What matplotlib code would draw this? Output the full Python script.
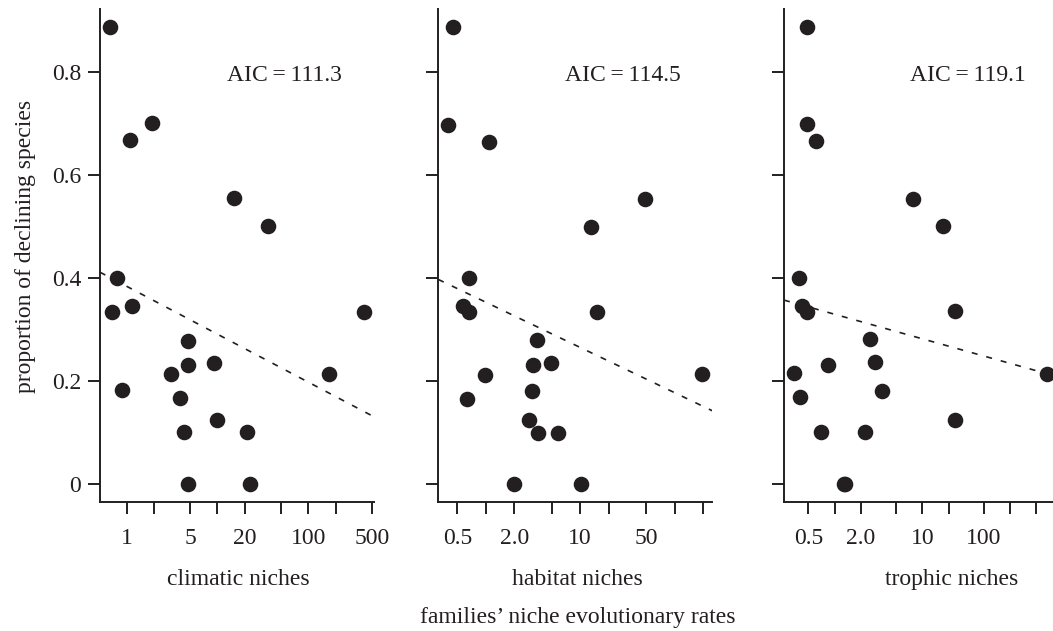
import numpy as np
import matplotlib
matplotlib.use("Agg")
import matplotlib.pyplot as plt

plt.rcParams['font.family'] = ['Liberation Serif', 'DejaVu Serif']

# ---- data ----
clim_x = [0.655, 1.087, 1.88, 15.3, 36.2, 0.776, 0.695, 1.135, 410, 4.70, 4.77, 3.07, 9.22, 169,
          0.895, 3.86, 9.95, 4.31, 21.0, 4.70, 22.8]
clim_y = [0.887, 0.667, 0.700, 0.556, 0.500, 0.400, 0.333, 0.346, 0.333, 0.278, 0.231, 0.214, 0.235, 0.214,
          0.182, 0.167, 0.125, 0.100, 0.100, 0.0, 0.0]

hab_x = [0.454, 0.402, 1.076, 48.5, 12.9, 0.661, 0.580, 0.661, 15.2, 3.46, 3.19, 4.91, 0.98, 193,
         3.07, 0.63, 2.89, 3.60, 5.78, 1.98, 10.2]
hab_y = [0.887, 0.697, 0.664, 0.554, 0.499, 0.399, 0.346, 0.333, 0.333, 0.279, 0.231, 0.234, 0.212, 0.214,
         0.181, 0.165, 0.124, 0.098, 0.098, 0.0, 0.0]

tro_x = [0.479, 0.479, 0.607, 7.77, 17.4, 0.388, 0.420, 0.479, 23.6, 2.53, 2.89, 0.832, 0.346, 267,
         3.49, 0.402, 23.6, 0.698, 2.24, 1.27, 1.31]
tro_y = [0.887, 0.699, 0.666, 0.553, 0.500, 0.399, 0.346, 0.333, 0.335, 0.281, 0.236, 0.230, 0.216, 0.214,
         0.181, 0.168, 0.124, 0.100, 0.100, 0.0, 0.0]

# fitted trend: y = intercept + slope * log10(x)
trend_intercept = [0.3837, 0.3529, 0.3294]
trend_slope = [-0.0930, -0.0879, -0.0476]

aic_values = ["111.3", "114.5", "119.1"]
panel_labels = ["climatic niches", "habitat niches", "trophic niches"]

clim_ticks = [1, 2, 5, 10, 20, 50, 100, 200, 500]
clim_ticklabels = ["1", "", "5", "", "20", "", "100", "", "500"]
hab_ticks = [0.5, 1, 2, 5, 10, 20, 50, 100, 200]
hab_ticklabels = ["0.5", "", "2.0", "", "10", "", "50", "", ""]
tro_ticks = [0.5, 1, 2, 5, 10, 20, 50, 100, 200]
tro_ticklabels = ["0.5", "", "2.0", "", "10", "", "100", "", ""]

y_ticks = [0, 0.2, 0.4, 0.6, 0.8]
y_ticklabels = ["0", "0.2", "0.4", "0.6", "0.8"]

# ---- layout ----
W, H = 1053, 631
fig = plt.figure(figsize=(W / 100, H / 100), dpi=100)
ink = '#231f20'

panels = [
    (clim_x, clim_y, clim_ticks, clim_ticklabels, (0.508, 529.6), 100.0, 238.0),
    (hab_x, hab_y, hab_ticks, hab_ticklabels, (0.315, 250.0), 438.3, 577.0),
    (tro_x, tro_y, tro_ticks, tro_ticklabels, (0.264, 354.0), 784.0, 952.0),
]
ax_w = 274.0
ax_top, ax_bot = 9.0, 502.0

for i, (xs, ys, xt, xtl, xl, left, label_cx) in enumerate(panels):
    ax = fig.add_axes([left / W, (H - ax_bot) / H, ax_w / W, (ax_bot - ax_top) / H])
    ax.set_xscale('log')
    ax.set_xlim(*xl)
    ax.set_ylim(-0.035, 0.922)
    ax.plot(xs, ys, 'o', ms=10.2, color=ink, mec=ink, clip_on=False, zorder=3)
    lx = np.logspace(np.log10(xl[0]), np.log10(xl[1]), 50)
    ax.plot(lx, trend_intercept[i] + trend_slope[i] * np.log10(lx), color=ink,
            lw=1.2, linestyle=(0, (3.6, 5.4)), zorder=2)
    for s in ['top', 'right']:
        ax.spines[s].set_visible(False)
    for s in ['left', 'bottom']:
        ax.spines[s].set_linewidth(1.4)
        ax.spines[s].set_color(ink)
    ax.set_xticks(xt)
    ax.set_xticklabels(xtl)
    ax.xaxis.set_minor_locator(matplotlib.ticker.NullLocator())
    ax.set_yticks(y_ticks)
    ax.set_yticklabels(y_ticklabels if i == 0 else [])
    ax.tick_params(axis='both', direction='out', length=8.5, width=1.4, color=ink,
                   labelsize=17, labelcolor=ink)
    ax.tick_params(axis='x', pad=10.5)
    ax.tick_params(axis='y', pad=5)
    ax.text(0.672, 0.865, "AIC\u2009=\u2009" + aic_values[i], transform=ax.transAxes,
            ha='center', va='center', fontsize=17, color=ink)
    fig.text(label_cx / W, 1 - 585 / H, panel_labels[i], ha='center', va='baseline', fontsize=17, color=ink)

fig.text(578 / W, 1 - 623 / H, "families\u2019 niche evolutionary rates", ha='center', va='baseline',
         fontsize=17, color=ink)
fig.text(26 / W, 1 - 246 / H, "proportion of declining species", rotation=90, ha='center', va='center',
         fontsize=17, color=ink)

fig.savefig("out.png", dpi=100)
